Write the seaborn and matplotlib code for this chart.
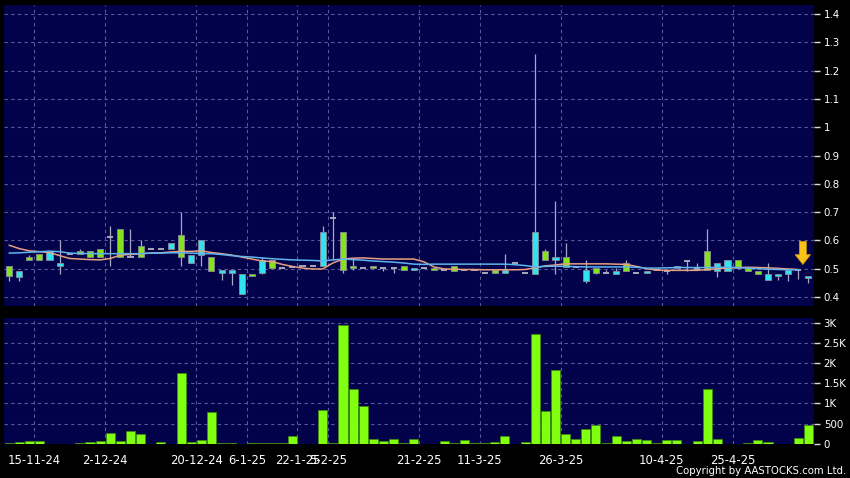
import numpy as np
import pandas as pd
import matplotlib
matplotlib.use("Agg")
import matplotlib.pyplot as plt
import seaborn as sns

# ---- data (one entry per trading session) ----
opens = [0.511, 0.469, 0.542, 0.553, 0.529, 0.508, 0.553, 0.563, 0.562, 0.569,
         0.612, 0.640, 0.541, 0.580, 0.569, 0.569, 0.569, 0.619, 0.520, 0.550,
         0.541, 0.485, 0.485, 0.410, 0.481, 0.484, 0.529, 0.502, 0.505, 0.511,
         0.511, 0.511, 0.678, 0.631, 0.511, 0.504, 0.511, 0.504, 0.504, 0.511,
         0.496, 0.504, 0.504, 0.496, 0.511, 0.497, 0.497, 0.485, 0.494, 0.485,
         0.520, 0.484, 0.481, 0.563, 0.530, 0.541, 0.505, 0.458, 0.502, 0.485,
         0.481, 0.520, 0.484, 0.485, 0.494, 0.490, 0.503, 0.528, 0.500, 0.563,
         0.492, 0.492, 0.532, 0.504, 0.492, 0.461, 0.473, 0.481, 0.496, 0.466]
highs = [0.511, 0.493, 0.550, 0.553, 0.562, 0.602, 0.553, 0.570, 0.562, 0.569,
         0.652, 0.640, 0.641, 0.602, 0.569, 0.569, 0.590, 0.700, 0.550, 0.600,
         0.541, 0.494, 0.494, 0.481, 0.481, 0.541, 0.529, 0.502, 0.505, 0.511,
         0.511, 0.652, 0.700, 0.631, 0.534, 0.504, 0.511, 0.504, 0.504, 0.511,
         0.504, 0.504, 0.504, 0.496, 0.511, 0.497, 0.497, 0.485, 0.494, 0.553,
         0.520, 0.484, 1.260, 0.571, 0.740, 0.592, 0.505, 0.532, 0.502, 0.494,
         0.502, 0.532, 0.484, 0.492, 0.494, 0.496, 0.510, 0.528, 0.520, 0.640,
         0.520, 0.532, 0.532, 0.504, 0.492, 0.520, 0.480, 0.496, 0.496, 0.473]
lows = [0.455, 0.455, 0.529, 0.529, 0.529, 0.482, 0.553, 0.553, 0.541, 0.541,
        0.508, 0.541, 0.541, 0.541, 0.569, 0.569, 0.569, 0.508, 0.520, 0.508,
        0.492, 0.459, 0.441, 0.410, 0.473, 0.481, 0.502, 0.502, 0.505, 0.511,
        0.511, 0.511, 0.530, 0.484, 0.494, 0.504, 0.504, 0.490, 0.484, 0.496,
        0.496, 0.504, 0.496, 0.496, 0.492, 0.497, 0.497, 0.485, 0.485, 0.485,
        0.520, 0.484, 0.481, 0.530, 0.481, 0.506, 0.505, 0.450, 0.482, 0.485,
        0.481, 0.492, 0.484, 0.485, 0.494, 0.482, 0.503, 0.490, 0.496, 0.494,
        0.469, 0.492, 0.504, 0.492, 0.481, 0.461, 0.459, 0.455, 0.463, 0.449]
closes = [0.473, 0.493, 0.529, 0.529, 0.562, 0.520, 0.553, 0.553, 0.541, 0.541,
          0.612, 0.541, 0.541, 0.541, 0.569, 0.569, 0.590, 0.541, 0.550, 0.600,
          0.492, 0.494, 0.494, 0.481, 0.473, 0.529, 0.502, 0.502, 0.505, 0.511,
          0.511, 0.631, 0.678, 0.495, 0.504, 0.504, 0.504, 0.504, 0.504, 0.496,
          0.504, 0.504, 0.496, 0.496, 0.492, 0.497, 0.497, 0.485, 0.485, 0.494,
          0.520, 0.484, 0.631, 0.530, 0.541, 0.506, 0.505, 0.494, 0.485, 0.485,
          0.492, 0.492, 0.484, 0.492, 0.494, 0.490, 0.510, 0.528, 0.500, 0.494,
          0.520, 0.532, 0.504, 0.492, 0.481, 0.481, 0.480, 0.496, 0.496, 0.473]
volume = [25, 35, 60, 75, 0, 0, 0, 25, 40, 75,
          267, 75, 308, 250, 0, 50, 0, 1767, 50, 100,
          792, 25, 25, 0, 8, 25, 25, 25, 200, 0,
          0, 825, 25, 2958, 1350, 925, 125, 67, 108, 5,
          108, 0, 0, 75, 25, 100, 5, 25, 33, 200,
          0, 42, 2733, 808, 1825, 242, 125, 358, 458, 5,
          183, 67, 108, 83, 17, 92, 83, 0, 58, 1358,
          125, 0, 0, 25, 100, 33, 0, 0, 133, 475]
ma_fast = [0.583, 0.571, 0.563, 0.560, 0.557, 0.546, 0.536, 0.534, 0.532, 0.531,
           0.536, 0.548, 0.550, 0.553, 0.555, 0.556, 0.559, 0.561, 0.561, 0.563,
           0.557, 0.553, 0.548, 0.541, 0.534, 0.527, 0.525, 0.515, 0.508, 0.502,
           0.499, 0.499, 0.520, 0.534, 0.537, 0.538, 0.536, 0.534, 0.534, 0.534,
           0.534, 0.524, 0.506, 0.499, 0.498, 0.497, 0.497, 0.496, 0.496, 0.496,
           0.496, 0.497, 0.503, 0.510, 0.513, 0.517, 0.517, 0.517, 0.517, 0.517,
           0.516, 0.515, 0.508, 0.500, 0.495, 0.494, 0.494, 0.494, 0.494, 0.497,
           0.500, 0.502, 0.504, 0.505, 0.504, 0.503, 0.501, 0.499, 0.497, np.nan]
ma_slow = [0.555, 0.556, 0.558, 0.560, 0.562, 0.560, 0.555, 0.554, 0.553, 0.553,
           0.553, 0.553, 0.553, 0.553, 0.555, 0.555, 0.556, 0.556, 0.555, 0.553,
           0.553, 0.550, 0.546, 0.543, 0.541, 0.538, 0.535, 0.533, 0.531, 0.530,
           0.529, 0.527, 0.531, 0.534, 0.532, 0.530, 0.527, 0.525, 0.523, 0.520,
           0.516, 0.515, 0.516, 0.516, 0.516, 0.516, 0.516, 0.516, 0.516, 0.516,
           0.514, 0.511, 0.506, 0.508, 0.509, 0.508, 0.507, 0.506, 0.506, 0.506,
           0.506, 0.506, 0.505, 0.502, 0.502, 0.503, 0.504, 0.504, 0.504, 0.504,
           0.505, 0.505, 0.504, 0.502, 0.500, 0.498, 0.497, 0.496, 0.496, np.nan]

# date labels and the session index each one starts
date_labels = ["15-11-24", "2-12-24", "20-12-24", "6-1-25", "22-1-25", "5-2-25",
               "21-2-25", "11-3-25", "26-3-25", "10-4-25", "25-4-25"]
date_index = [3, 10, 19, 24, 29, 32, 41, 47, 55, 65, 72]

price_ticks = [0.4, 0.5, 0.6, 0.7, 0.8, 0.9, 1.0, 1.1, 1.2, 1.3, 1.4]
vol_ticks = [0, 500, 1000, 1500, 2000, 2500, 3000]
vol_tick_labels = ["0", "500", "1K", "1.5K", "2K", "2.5K", "3K"]

# ---- styling ----
BG = "#02024a"
GRID = "#5a5a98"
UP = "#2fe3f0"
DOWN = "#84e31c"
FLAT = "#a8a8b8"
WICK = "#a8a8c4"

sns.set_style("dark")
plt.rcParams["font.family"] = ["DejaVu Sans"]

df = pd.DataFrame({"open": opens, "high": highs, "low": lows, "close": closes,
                   "volume": volume, "ma_fast": ma_fast, "ma_slow": ma_slow})
df["idx"] = np.arange(len(df))

fig = plt.figure(figsize=(8.5, 4.78), dpi=100, facecolor="black")
ax = fig.add_axes([4 / 850, 172 / 478, 810 / 850, 301 / 478])
axv = fig.add_axes([4 / 850, 34 / 478, 810 / 850, 126 / 478])

tick_pos = [i - 0.5 for i in date_index]

for a in (ax, axv):
    a.set_facecolor(BG)
    for s in a.spines.values():
        s.set_visible(False)
    a.set_xlim(-0.5, 79.55)
    a.set_xticks(tick_pos)
    a.grid(True, color=GRID, linestyle=(0, (3, 3)), linewidth=0.8)
    a.set_axisbelow(True)
    a.yaxis.tick_right()
    a.tick_params(axis="y", colors="#d8d8d8", length=4, width=1, pad=3,
                  labelsize=7.4, labelcolor="white")

# ---- price panel ----
ax.vlines(df["idx"], df["low"], df["high"], color=WICK, linewidth=0.9, zorder=2)

body_lo = df[["open", "close"]].min(axis=1)
body_h = (df["close"] - df["open"]).abs()
is_flat = body_h < 1e-9
colors = np.where(df["close"] > df["open"], UP, DOWN)
ax.bar(df["idx"][~is_flat], body_h[~is_flat], bottom=body_lo[~is_flat], width=0.6,
       color=colors[~is_flat], edgecolor="#8a8a9a", linewidth=0.6, zorder=3)
ax.hlines(df["close"][is_flat], df["idx"][is_flat] - 0.3, df["idx"][is_flat] + 0.3,
          color=FLAT, linewidth=1.4, zorder=3)

sns.lineplot(data=df, x="idx", y="ma_fast", ax=ax, color="#e8a080", linewidth=1.1, zorder=4)
sns.lineplot(data=df, x="idx", y="ma_slow", ax=ax, color="#5fb4f0", linewidth=1.1, zorder=4)

last = df["idx"].iloc[-1] - 0.55
ax.annotate("", xy=(last, 0.515), xytext=(last, 0.596),
            arrowprops=dict(facecolor="#f7c21a", edgecolor="#d09a00", width=5,
                            headwidth=11, headlength=7, linewidth=0.6), zorder=5)

ax.set_ylim(0.368, 1.432)
ax.set_yticks(price_ticks)
ax.set_yticklabels([f"{v:g}" for v in price_ticks])
ax.tick_params(axis="x", length=0, labelbottom=False)
ax.set_xlabel("")
ax.set_ylabel("")

# ---- volume panel ----
sns.barplot(data=df, x="idx", y="volume", ax=axv, native_scale=True, width=0.9,
            color="#80ff10", saturation=1, edgecolor="#3f8a10", linewidth=0.6, zorder=3)
axv.set_xlim(-0.5, 79.55)
axv.set_ylim(-12, 3135)
axv.set_yticks(vol_ticks)
axv.set_yticklabels(vol_tick_labels)
axv.set_xticks(tick_pos)
axv.set_xticklabels(date_labels)
axv.tick_params(axis="x", colors="#c0c0c0", length=3, width=1, pad=4,
                labelsize=8.4, labelcolor="white")
axv.set_xlabel("")
axv.set_ylabel("")

fig.text(0.995, 0.004, "Copyright by AASTOCKS.com Ltd.", ha="right", va="bottom",
         color="white", fontsize=7.3)

fig.savefig("out.png", dpi=100, facecolor=fig.get_facecolor())
